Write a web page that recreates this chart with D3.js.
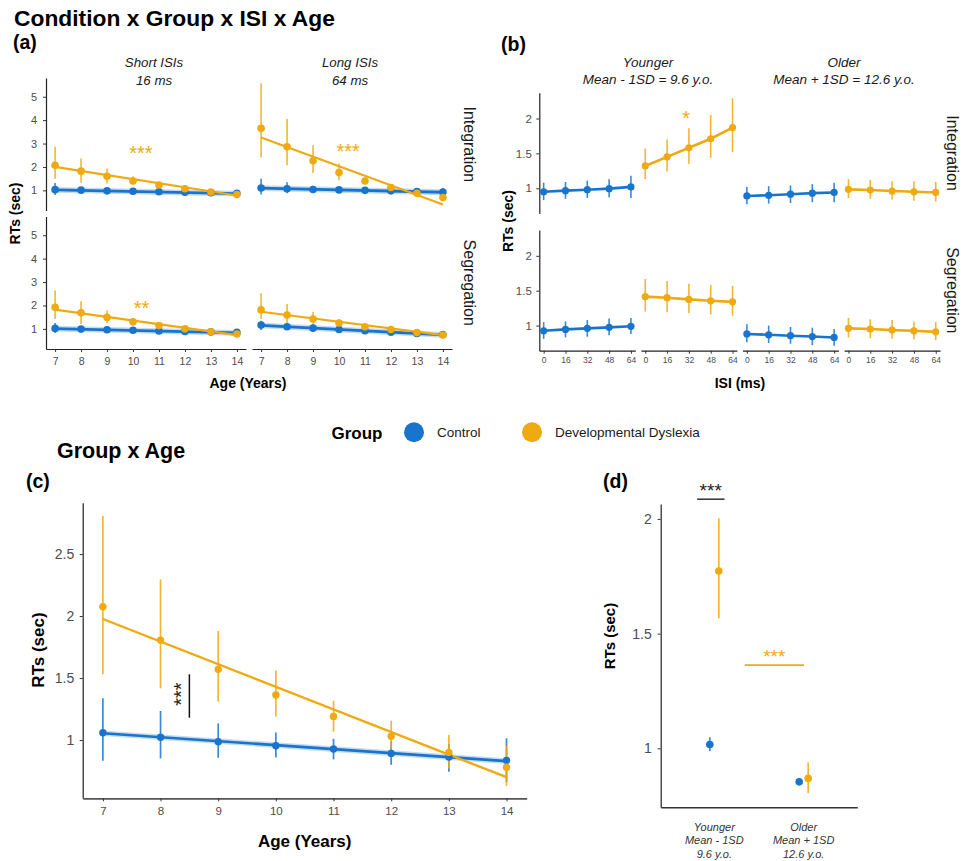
<!DOCTYPE html>
<html>
<head>
<meta charset="utf-8">
<script src="https://cdn.jsdelivr.net/npm/d3@7"></script>
<style>
  body{margin:0;background:#fff;}
</style>
</head>
<body>
<svg id="fig" width="964" height="861"></svg>
<script>
const FONT = '"Liberation Sans", Arial, Helvetica, sans-serif';
const AZUL = "#1874cd", ORO = "#eeaa10";

// ---------- datos compartidos
const grupos = ["Control", "Developmental Dyslexia"];
const edades = [7, 8, 9, 10, 11, 12, 13, 14];
const isis = [0, 16, 32, 48, 64];

// ---------- (a) Condition x Group x ISI x Age
const a_cols = ["Short ISIs|16 ms", "Long ISIs|64 ms"];
const a_rows = ["Integration", "Segregation"];
const a_yTicks = [1, 2, 3, 4, 5];

// Integration / Short
const a_is_ctrl    = [1.03, 1.01, 0.98, 0.96, 0.94, 0.92, 0.90, 0.88];
const a_is_ctrl_lo = [0.80, 0.90, 0.90, 0.90, 0.88, 0.86, 0.83, 0.80];
const a_is_ctrl_hi = [1.32, 1.14, 1.07, 1.03, 1.00, 0.98, 0.97, 0.97];
const a_is_dd      = [2.07, 1.82, 1.60, 1.40, 1.23, 1.07, 0.93, 0.82];
const a_is_dd_lo   = [1.50, 1.33, 1.29, 1.26, 1.12, 0.98, 0.85, 0.72];
const a_is_dd_hi   = [2.86, 2.36, 1.93, 1.60, 1.36, 1.17, 1.03, 0.92];
const a_is_fit_ctrl = [1.02, 0.86];
const a_is_fit_dd   = [2.00, 0.78];
// Integration / Long
const a_il_ctrl    = [1.10, 1.07, 1.04, 1.02, 1.00, 0.98, 0.95, 0.93];
const a_il_ctrl_lo = [0.82, 0.88, 0.92, 0.93, 0.93, 0.91, 0.85, 0.80];
const a_il_ctrl_hi = [1.50, 1.35, 1.20, 1.12, 1.07, 1.05, 1.07, 1.10];
const a_il_dd      = [3.65, 2.86, 2.26, 1.76, 1.40, 1.12, 0.88, 0.69];
const a_il_dd_lo   = [2.40, 2.07, 1.74, 1.43, 1.25, 1.00, 0.78, 0.58];
const a_il_dd_hi   = [5.58, 4.05, 2.93, 2.15, 1.55, 1.22, 1.00, 0.82];
const a_il_fit_ctrl = [1.10, 0.92];
const a_il_fit_dd   = [3.26, 0.40];
// Segregation / Short
const a_ss_ctrl    = [1.02, 0.99, 0.96, 0.94, 0.91, 0.89, 0.87, 0.85];
const a_ss_ctrl_lo = [0.82, 0.88, 0.89, 0.88, 0.86, 0.83, 0.79, 0.74];
const a_ss_ctrl_hi = [1.25, 1.12, 1.05, 1.01, 0.97, 0.95, 0.95, 0.96];
const a_ss_dd      = [1.92, 1.69, 1.49, 1.30, 1.14, 1.00, 0.88, 0.78];
const a_ss_dd_lo   = [1.42, 1.20, 1.25, 1.18, 1.05, 0.92, 0.80, 0.68];
const a_ss_dd_hi   = [2.64, 2.18, 1.80, 1.45, 1.25, 1.09, 0.97, 0.88];
const a_ss_fit_ctrl = [1.01, 0.83];
const a_ss_fit_dd   = [1.82, 0.73];
// Segregation / Long
const a_sl_ctrl    = [1.16, 1.09, 1.03, 0.97, 0.92, 0.86, 0.80, 0.76];
const a_sl_ctrl_lo = [0.95, 0.95, 0.95, 0.90, 0.86, 0.80, 0.72, 0.65];
const a_sl_ctrl_hi = [1.35, 1.22, 1.12, 1.04, 0.98, 0.93, 0.88, 0.86];
const a_sl_dd      = [1.81, 1.59, 1.42, 1.25, 1.09, 0.97, 0.84, 0.74];
const a_sl_dd_lo   = [1.42, 1.20, 1.16, 1.12, 1.00, 0.88, 0.76, 0.66];
const a_sl_dd_hi   = [2.52, 2.06, 1.73, 1.40, 1.20, 1.07, 0.94, 0.84];
const a_sl_fit_ctrl = [1.15, 0.74];
const a_sl_fit_dd   = [1.73, 0.73];

// ---------- (b) Condition x Group x ISI x Age at younger / older
const b_cols = ["Younger|Mean - 1SD = 9.6 y.o.", "Older|Mean + 1SD = 12.6 y.o."];
const b_yTicks = [1, 1.5, 2];
const b_int_young_ctrl    = [0.95, 0.966, 0.98, 0.995, 1.02];
const b_int_young_ctrl_lo = [0.83, 0.85, 0.86, 0.87, 0.86];
const b_int_young_ctrl_hi = [1.08, 1.09, 1.11, 1.13, 1.18];
const b_int_young_dd      = [1.32, 1.45, 1.58, 1.71, 1.87];
const b_int_young_dd_lo   = [1.13, 1.24, 1.35, 1.44, 1.52];
const b_int_young_dd_hi   = [1.57, 1.70, 1.86, 2.05, 2.29];
const b_int_old_ctrl      = [0.89, 0.90, 0.915, 0.93, 0.94];
const b_int_old_ctrl_lo   = [0.77, 0.78, 0.79, 0.80, 0.80];
const b_int_old_ctrl_hi   = [1.02, 1.03, 1.04, 1.06, 1.08];
const b_int_old_dd        = [0.985, 0.975, 0.96, 0.95, 0.94];
const b_int_old_dd_lo     = [0.86, 0.85, 0.84, 0.82, 0.81];
const b_int_old_dd_hi     = [1.13, 1.12, 1.10, 1.10, 1.09];
const b_seg_young_ctrl    = [0.925, 0.945, 0.96, 0.975, 0.99];
const b_seg_young_ctrl_lo = [0.81, 0.83, 0.84, 0.86, 0.88];
const b_seg_young_ctrl_hi = [1.05, 1.06, 1.08, 1.10, 1.11];
const b_seg_young_dd      = [1.415, 1.40, 1.375, 1.355, 1.34];
const b_seg_young_dd_lo   = [1.20, 1.19, 1.18, 1.16, 1.14];
const b_seg_young_dd_hi   = [1.67, 1.64, 1.60, 1.58, 1.57];
const b_seg_old_ctrl      = [0.88, 0.868, 0.855, 0.843, 0.83];
const b_seg_old_ctrl_lo   = [0.76, 0.75, 0.74, 0.72, 0.71];
const b_seg_old_ctrl_hi   = [1.02, 1.00, 0.98, 0.97, 0.95];
const b_seg_old_dd        = [0.96, 0.95, 0.935, 0.925, 0.91];
const b_seg_old_dd_lo     = [0.83, 0.82, 0.81, 0.80, 0.79];
const b_seg_old_dd_hi     = [1.11, 1.09, 1.08, 1.06, 1.05];

// ---------- (c) Group x Age
const c_yTicks = [1, 1.5, 2, 2.5];
const c_ctrl    = [1.059, 1.022, 0.987, 0.954, 0.927, 0.892, 0.863, 0.836];
const c_ctrl_lo = [0.833, 0.852, 0.857, 0.860, 0.844, 0.800, 0.745, 0.660];
const c_ctrl_hi = [1.336, 1.234, 1.134, 1.060, 1.010, 0.990, 0.970, 1.014];
const c_dd      = [2.075, 1.806, 1.570, 1.363, 1.190, 1.030, 0.900, 0.780];
const c_dd_lo   = [1.530, 1.417, 1.310, 1.190, 1.067, 0.925, 0.770, 0.630];
const c_dd_hi   = [2.806, 2.296, 1.880, 1.560, 1.317, 1.156, 1.040, 0.960];
const c_fit_ctrl = [1.055, 0.830];
const c_fit_dd   = [1.976, 0.700];

// ---------- (d) Group x age at younger / older
const d_cats = ["Younger", "Older"];
const d_labels = [["Younger", "Mean - 1SD", "9.6 y.o."], ["Older", "Mean + 1SD", "12.6 y.o."]];
const d_yTicks = [1, 1.5, 2];
const d_ctrl    = [1.017, 0.854];
const d_ctrl_lo = [0.988, 0.843];
const d_ctrl_hi = [1.048, 0.865];
const d_dd      = [1.773, 0.869];
const d_dd_lo   = [1.567, 0.804];
const d_dd_hi   = [2.003, 0.939];


//<-------------------------------------->

const svg = d3.select("#fig");
const fmt = d => String(d);

const texto = (padre, txt, x, y, fs, o = {}) => {
  const t = padre.append("text")
    .attr("x", x).attr("y", y)
    .attr("font-family", FONT)
    .attr("font-size", fs)
    .attr("fill", o.fill || "#000")
    .attr("font-weight", o.bold ? "bold" : null)
    .attr("font-style", o.italic ? "italic" : null)
    .attr("text-anchor", o.anchor || "start")
    .text(txt);
  if (o.rot) t.attr("dy", "0.35em").attr("transform", `rotate(${o.rot},${x},${y})`);
  return t;
};

// asteriscos centrados en (cx,cy)
const estrellas = (padre, txt, cx, cy, fs, color, rot = 0) => {
  padre.append("text")
    .attr("transform", `translate(${cx},${cy}) rotate(${rot})`)
    .attr("y", 0.57 * fs)
    .attr("text-anchor", "middle")
    .attr("font-family", FONT)
    .attr("font-size", fs)
    .attr("fill", color)
    .text(txt);
};

const estiloEje = (a, fs, col = "#222", w = 1.2) => {
  a.attr("font-family", FONT).attr("font-size", fs);
  a.select(".domain").attr("stroke", col).attr("stroke-width", w);
  a.selectAll(".tick line").attr("stroke", "#333");
  a.selectAll(".tick text").attr("fill", "#4d4d4d");
};

const barras = (g, x, y, xs, lo, hi, color, w) => {
  g.append("g").selectAll("line")
    .data(xs).enter().append("line")
    .attr("x1", d => x(d)).attr("x2", d => x(d))
    .attr("y1", (d, i) => y(lo[i])).attr("y2", (d, i) => y(hi[i]))
    .attr("stroke", color).attr("stroke-width", w).attr("stroke-opacity", 0.85);
};

const puntos = (g, x, y, xs, m, color, r) => {
  g.append("g").selectAll("circle")
    .data(xs).enter().append("circle")
    .attr("cx", d => x(d)).attr("cy", (d, i) => y(m[i]))
    .attr("r", r).attr("fill", color);
};

// recta ajustada entre la primera y la última edad
const recta = (g, x, y, xs, fit, color, w, halo) => {
  if (halo) {
    g.append("line")
      .attr("x1", x(xs[0])).attr("x2", x(xs[xs.length - 1]))
      .attr("y1", y(fit[0])).attr("y2", y(fit[1]))
      .attr("stroke", color).attr("stroke-width", w + 3).attr("stroke-opacity", 0.25);
  }
  g.append("line")
    .attr("x1", x(xs[0])).attr("x2", x(xs[xs.length - 1]))
    .attr("y1", y(fit[0])).attr("y2", y(fit[1]))
    .attr("stroke", color).attr("stroke-width", w);
};

const linea = (g, x, y, xs, m, color, w) => {
  g.append("path").datum(xs)
    .attr("d", d3.line().x(d => x(d)).y((d, i) => y(m[i])))
    .attr("fill", "none").attr("stroke", color).attr("stroke-width", w);
};


//<-------------------------------------->
// Títulos
texto(svg, "Condition x Group x ISI x Age", 14, 26, 22.8, {bold: true});
texto(svg, "(a)", 13, 49, 19.5, {bold: true});
texto(svg, "(b)", 501, 51, 19.5, {bold: true});
texto(svg, "Group x Age", 57, 458, 21.5, {bold: true});
texto(svg, "(c)", 26, 487.5, 19.5, {bold: true});
texto(svg, "(d)", 603, 487.5, 19.5, {bold: true});


//<-------------------------------------->
// Panel (a)
const aX0 = [46, 252], aY0 = [78, 216.5], aW = 200, aH = 132.5;
const xA = d3.scaleLinear().domain([6.65, 14.35]).range([0, aW]);
const yA = d3.scaleLinear().domain([0.14, 5.8]).range([aH, 0]);

const facetasA = [
  {r: 0, c: 0, ctrl: [a_is_ctrl, a_is_ctrl_lo, a_is_ctrl_hi, a_is_fit_ctrl], dd: [a_is_dd, a_is_dd_lo, a_is_dd_hi, a_is_fit_dd], star: ["***", 10.3, 2.8]},
  {r: 0, c: 1, ctrl: [a_il_ctrl, a_il_ctrl_lo, a_il_ctrl_hi, a_il_fit_ctrl], dd: [a_il_dd, a_il_dd_lo, a_il_dd_hi, a_il_fit_dd], star: ["***", 10.35, 2.87]},
  {r: 1, c: 0, ctrl: [a_ss_ctrl, a_ss_ctrl_lo, a_ss_ctrl_hi, a_ss_fit_ctrl], dd: [a_ss_dd, a_ss_dd_lo, a_ss_dd_hi, a_ss_fit_dd], star: ["**", 10.33, 2.06]},
  {r: 1, c: 1, ctrl: [a_sl_ctrl, a_sl_ctrl_lo, a_sl_ctrl_hi, a_sl_fit_ctrl], dd: [a_sl_dd, a_sl_dd_lo, a_sl_dd_hi, a_sl_fit_dd], star: null}
];

facetasA.forEach(f => {
  const g = svg.append("g").attr("transform", `translate(${aX0[f.c]},${aY0[f.r]})`);
  if (f.c === 0) {
    const ay = g.append("g").call(d3.axisLeft(yA).tickValues(a_yTicks).tickFormat(fmt).tickSize(3).tickSizeOuter(0).tickPadding(6));
    estiloEje(ay, 11);
  }
  if (f.r === 1) {
    const ax = g.append("g").attr("transform", `translate(0,${aH})`)
      .call(d3.axisBottom(xA).tickValues(edades).tickFormat(fmt).tickSize(3).tickSizeOuter(0).tickPadding(6));
    estiloEje(ax, 10.5);
  }
  barras(g, xA, yA, edades, f.ctrl[1], f.ctrl[2], AZUL, 1.6);
  barras(g, xA, yA, edades, f.dd[1], f.dd[2], ORO, 1.6);
  recta(g, xA, yA, edades, f.ctrl[3], AZUL, 2.8, true);
  recta(g, xA, yA, edades, f.dd[3], ORO, 2.2, false);
  puntos(g, xA, yA, edades, f.ctrl[0], AZUL, 3.8);
  puntos(g, xA, yA, edades, f.dd[0], ORO, 3.8);
  if (f.star) estrellas(g, f.star[0], xA(f.star[1]), yA(f.star[2]), 20, ORO);
});

// tiras de las facetas (a)
const aStripX = [154, 350];
a_cols.forEach((s, i) => {
  const [l1, l2] = s.split("|");
  texto(svg, l1, aStripX[i], 66.5, 13.3, {italic: true, anchor: "middle", fill: "#1a1a1a"});
  texto(svg, l2, aStripX[i], 84.5, 13.3, {italic: true, anchor: "middle", fill: "#1a1a1a"});
});
a_rows.forEach((s, i) => {
  texto(svg, s, 470, aY0[i] + aH / 2, 16, {anchor: "middle", rot: 90, fill: "#1a1a1a"});
});
texto(svg, "RTs (sec)", 15, 213.5, 14, {bold: true, anchor: "middle", rot: -90});
texto(svg, "Age (Years)", 248, 388, 14, {bold: true, anchor: "middle"});


//<-------------------------------------->
// Panel (b)
const bX0 = [539.3, 640.9, 742.5, 844.1], bY0 = [92.7, 230], bW = 96, bH = 120.7;
const xB = d3.scaleLinear().domain([-3.2, 67.2]).range([0, bW]);
const yB = d3.scaleLinear().domain([0.64, 2.37]).range([bH, 0]);

const facetasB = [
  [[b_int_young_ctrl, b_int_young_ctrl_lo, b_int_young_ctrl_hi, AZUL],
   [b_int_young_dd, b_int_young_dd_lo, b_int_young_dd_hi, ORO],
   [b_int_old_ctrl, b_int_old_ctrl_lo, b_int_old_ctrl_hi, AZUL],
   [b_int_old_dd, b_int_old_dd_lo, b_int_old_dd_hi, ORO]],
  [[b_seg_young_ctrl, b_seg_young_ctrl_lo, b_seg_young_ctrl_hi, AZUL],
   [b_seg_young_dd, b_seg_young_dd_lo, b_seg_young_dd_hi, ORO],
   [b_seg_old_ctrl, b_seg_old_ctrl_lo, b_seg_old_ctrl_hi, AZUL],
   [b_seg_old_dd, b_seg_old_dd_lo, b_seg_old_dd_hi, ORO]]
];

facetasB.forEach((fila, r) => {
  fila.forEach((s, c) => {
    const g = svg.append("g").attr("transform", `translate(${bX0[c]},${bY0[r]})`);
    if (c === 0) {
      const ay = g.append("g").call(d3.axisLeft(yB).tickValues(b_yTicks).tickFormat(fmt).tickSize(3).tickSizeOuter(0).tickPadding(4.5));
      estiloEje(ay, 11.5);
    }
    if (r === 1) {
      const ax = g.append("g").attr("transform", `translate(0,${bH})`)
        .call(d3.axisBottom(xB).tickValues(isis).tickFormat(fmt).tickSize(3).tickSizeOuter(0).tickPadding(3.5));
      estiloEje(ax, 8.5);
    }
    barras(g, xB, yB, isis, s[1], s[2], s[3], 1.6);
    linea(g, xB, yB, isis, s[0], s[3], 2.6);
    puntos(g, xB, yB, isis, s[0], s[3], 3.6);
    if (r === 0 && c === 1) estrellas(g, "*", xB(30), yB(2.07), 20, ORO);
  });
});

const bStripX = [648, 844];
b_cols.forEach((s, i) => {
  const [l1, l2] = s.split("|");
  texto(svg, l1, bStripX[i], 67.2, 13.5, {italic: true, anchor: "middle", fill: "#1a1a1a"});
  texto(svg, l2, bStripX[i], 84, 13.5, {italic: true, anchor: "middle", fill: "#1a1a1a"});
});
a_rows.forEach((s, i) => {
  texto(svg, s, 953, bY0[i] + bH / 2, 16, {anchor: "middle", rot: 90, fill: "#1a1a1a"});
});
texto(svg, "RTs (sec)", 508, 221, 14, {bold: true, anchor: "middle", rot: -90});
texto(svg, "ISI (ms)", 740, 388, 14, {bold: true, anchor: "middle"});


//<-------------------------------------->
// Leyenda
const ley = svg.append("g");
texto(ley, "Group", 331.5, 438.5, 17, {bold: true});
let lx = 404;
grupos.forEach((gname, i) => {
  ley.append("circle").attr("cx", lx + 10).attr("cy", 432.3).attr("r", 10)
    .attr("fill", i === 0 ? AZUL : ORO);
  const t = texto(ley, gname, lx + 33, 437.3, 13.5, {fill: "#1a1a1a"});
  lx = lx + 33 + t.node().getComputedTextLength() + 41.5;
});


//<-------------------------------------->
// Panel (c)
const gC = svg.append("g");
const xC = d3.scaleLinear().domain([6.65, 14.35]).range([82.7, 526.7]);
const yC = d3.scaleLinear().domain([0.53, 2.914]).range([798.3, 502.7]);

const cy = gC.append("g").attr("transform", "translate(82.7,0)")
  .call(d3.axisLeft(yC).tickValues(c_yTicks).tickFormat(fmt).tickSize(3).tickSizeOuter(0).tickPadding(5.5));
estiloEje(cy, 14, "#222", 1.2);
const cx = gC.append("g").attr("transform", "translate(0,798.3)")
  .call(d3.axisBottom(xC).tickValues(edades).tickFormat(fmt).tickSize(3).tickSizeOuter(0).tickPadding(6));
estiloEje(cx, 11.5, "#555", 1.8);

barras(gC, xC, yC, edades, c_ctrl_lo, c_ctrl_hi, AZUL, 1.7);
barras(gC, xC, yC, edades, c_dd_lo, c_dd_hi, ORO, 1.7);
recta(gC, xC, yC, edades, c_fit_ctrl, AZUL, 2.6, true);
recta(gC, xC, yC, edades, c_fit_dd, ORO, 2.4, false);
puntos(gC, xC, yC, edades, c_ctrl, AZUL, 3.7);
puntos(gC, xC, yC, edades, c_dd, ORO, 3.7);

// comparación de grupos a los 8.5 años
gC.append("line")
  .attr("x1", xC(8.5)).attr("x2", xC(8.5))
  .attr("y1", yC(1.53)).attr("y2", yC(1.18))
  .attr("stroke", "#111").attr("stroke-width", 1.5);
estrellas(gC, "***", xC(8.27), yC(1.37), 20, "#222", -90);

texto(svg, "RTs (sec)", 38, 650, 17, {bold: true, anchor: "middle", rot: -90});
texto(svg, "Age (Years)", 304.7, 846.5, 17, {bold: true, anchor: "middle"});


//<-------------------------------------->
// Panel (d)
const gD = svg.append("g");
const xD = d3.scalePoint().domain(d_cats).range([660.7, 857.3]).padding(0.6);
const yD = d3.scaleLinear().domain([0.743, 2.065]).range([807.3, 504]);
const esquiva = 4.5;

const dy = gD.append("g").attr("transform", "translate(660.7,0)")
  .call(d3.axisLeft(yD).tickValues(d_yTicks).tickFormat(fmt).tickSize(3).tickSizeOuter(0).tickPadding(6));
estiloEje(dy, 14);
const dx = gD.append("g").attr("transform", "translate(0,807.3)")
  .call(d3.axisBottom(xD).tickSize(0).tickFormat(""));
estiloEje(dx, 11, "#333", 1.4);

const xDc = d => xD(d) - esquiva, xDd = d => xD(d) + esquiva;
barras(gD, xDc, yD, d_cats, d_ctrl_lo, d_ctrl_hi, AZUL, 1.7);
barras(gD, xDd, yD, d_cats, d_dd_lo, d_dd_hi, ORO, 1.7);
puntos(gD, xDc, yD, d_cats, d_ctrl, AZUL, 3.8);
puntos(gD, xDd, yD, d_cats, d_dd, ORO, 3.8);

// etiquetas del eje x en tres líneas
d_labels.forEach((lin, i) => {
  lin.forEach((s, j) => {
    texto(gD, s, xD(d_cats[i]), 830.5 + j * 13.7, 11, {italic: true, anchor: "middle", fill: "#333"});
  });
});

// significancia
gD.append("line").attr("x1", xDc(d_cats[0]) - 12.7).attr("x2", xDc(d_cats[0]) + 14.7)
  .attr("y1", yD(2.086)).attr("y2", yD(2.086)).attr("stroke", "#222").attr("stroke-width", 1.4);
estrellas(gD, "***", xD(d_cats[0]) - 3.6, yD(2.142), 19, "#222");
gD.append("line").attr("x1", xDd(d_cats[0]) + 26).attr("x2", xDc(d_cats[1]) + 4.7)
  .attr("y1", yD(1.363)).attr("y2", yD(1.363)).attr("stroke", ORO).attr("stroke-width", 1.8);
estrellas(gD, "***", (xD(d_cats[0]) + xD(d_cats[1])) / 2 + 15.3, yD(1.42), 19, ORO);

texto(svg, "RTs (sec)", 610, 636, 15, {bold: true, anchor: "middle", rot: -90});
</script>
</body>
</html>
